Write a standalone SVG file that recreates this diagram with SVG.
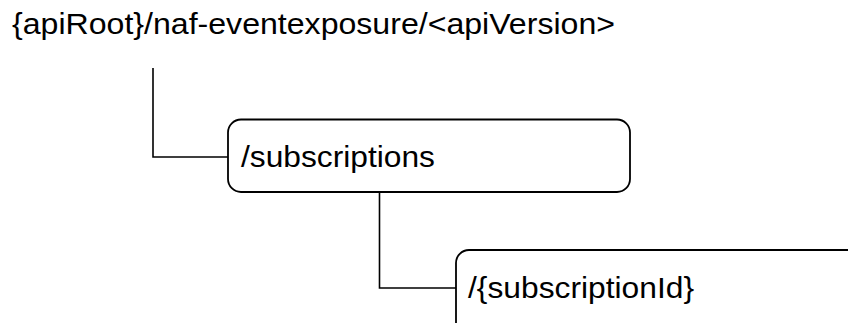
<svg xmlns="http://www.w3.org/2000/svg" width="848" height="323" viewBox="0 0 848 323">
<style>
.node rect{fill:#fff;stroke:#000;stroke-width:1.8}
.conn path{fill:none;stroke:#000;stroke-width:1.6}
text{font-family:"Liberation Sans",Arial,sans-serif;font-size:29px;fill:#000}
</style>
<rect width="848" height="323" fill="#fff"/>
<g id="connectors" class="conn">
<path d="M153 68 V157 H228"/>
<path d="M379.5 192 V288 H456"/>
</g>
<g id="root">
<text x="12" y="34" textLength="603" lengthAdjust="spacingAndGlyphs">{apiRoot}/naf-eventexposure/&lt;apiVersion&gt;</text>
</g>
<g id="subscriptions" class="node">
<rect x="228" y="119.5" width="402" height="72.5" rx="13"/>
<text x="241" y="167" textLength="194" lengthAdjust="spacingAndGlyphs">/subscriptions</text>
</g>
<g id="subscriptionId" class="node">
<rect x="456" y="250" width="460" height="120" rx="13"/>
<text x="468" y="298" textLength="226" lengthAdjust="spacingAndGlyphs">/{subscriptionId}</text>
</g>
</svg>
